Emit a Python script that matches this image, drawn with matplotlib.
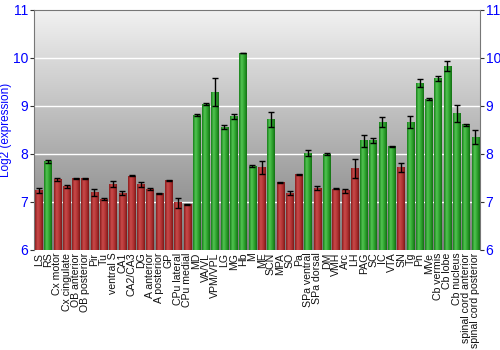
import numpy as np
import matplotlib
matplotlib.use("Agg")
import matplotlib.pyplot as plt
from matplotlib.colors import LinearSegmentedColormap

plt.rcParams["font.family"] = ["Liberation Sans", "DejaVu Sans"]

categories = ["LS", "RS", "Cx motor", "Cx cingulate", "OB anterior", "OB posterior", "Pir", "Tu",
              "ventral S", "CA1", "CA2/CA3", "DG", "A anterior", "A posterior", "GP", "CPu lateral",
              "CPu medial", "MD", "VA/VL", "VPM/VPL", "LG", "MG", "Hb", "M", "ME", "SCN", "MPA",
              "SO", "Pa", "SPa ventral", "SPa dorsal", "DM", "VMH", "Arc", "LH", "PAG", "SC", "IC",
              "VTA", "SN", "Tg", "Pn", "MVe", "Cb vermis", "Cb lobe", "Cb nucleus",
              "spinal cord anterior", "spinal cord posterior"]
values = [7.24, 7.84, 7.47, 7.32, 7.49, 7.48, 7.20, 7.06,
          7.37, 7.18, 7.54, 7.37, 7.26, 7.17, 7.44, 6.98,
          6.95, 8.80, 9.03, 9.29, 8.56, 8.78, 10.10, 7.74, 7.72, 8.71, 7.40,
          7.18, 7.58, 8.01, 7.29, 7.99, 7.27, 7.23, 7.70, 8.27, 8.27, 8.66,
          8.15, 7.72, 8.66, 9.47, 9.14, 9.57, 9.83, 8.84,
          8.61, 8.35]
errors = [0.05, 0.04, 0.03, 0.04, 0.01, 0.01, 0.07, 0.03,
          0.06, 0.04, 0.01, 0.05, 0.02, 0.01, 0.01, 0.10,
          0.01, 0.02, 0.02, 0.29, 0.05, 0.06, 0.01, 0.02, 0.14, 0.16, 0.01,
          0.04, 0.01, 0.06, 0.05, 0.02, 0.01, 0.04, 0.20, 0.12, 0.05, 0.10,
          0.01, 0.10, 0.12, 0.08, 0.02, 0.06, 0.10, 0.17,
          0.02, 0.15]
groups = ["lo", "hi", "lo", "lo", "lo", "lo", "lo", "lo",
          "lo", "lo", "lo", "lo", "lo", "lo", "lo", "lo",
          "lo", "hi", "hi", "hi", "hi", "hi", "hi", "hi", "lo", "hi", "lo",
          "lo", "lo", "hi", "lo", "hi", "lo", "lo", "lo", "hi", "hi", "hi",
          "hi", "lo", "hi", "hi", "hi", "hi", "hi", "hi",
          "hi", "hi"]
yticks = [6, 7, 8, 9, 10, 11]
ylabel = "Log2 (expression)"

fig = plt.figure(figsize=(5, 3.5), dpi=100)
ax = fig.add_axes([0.068, 0.286, 0.892, 0.686])
ymin, ymax = 6, 11
n = len(categories)
x = np.arange(n)
ax.set_xlim(-0.5, n - 0.5)
ax.set_ylim(ymin, ymax)

# background gradient
bg = LinearSegmentedColormap.from_list("bg", ["#7c7c7c", "#f2f2f2"])
grad = np.linspace(0, 1, 256).reshape(-1, 1)
ax.imshow(grad, extent=(-0.5, n - 0.5, ymin, ymax), origin="lower", aspect="auto",
          cmap=bg, zorder=0)
for t in yticks[1:-1]:
    ax.axhline(t, color="white", lw=1.0, zorder=1)

cmaps = {
    "lo": LinearSegmentedColormap.from_list("r", ["#8a1c1c", "#c94a4a", "#b23434", "#7e1818"]),
    "hi": LinearSegmentedColormap.from_list("g", ["#17801a", "#52c452", "#2ea22e", "#137013"]),
}
hgrad = np.linspace(0, 1, 64).reshape(1, -1)
w = 0.8
for xi, v, g in zip(x, values, groups):
    ax.imshow(hgrad, extent=(xi - w / 2, xi + w / 2, ymin, v), origin="lower",
              aspect="auto", cmap=cmaps[g], zorder=2)
ax.errorbar(x, values, yerr=errors, fmt="none", ecolor="black", elinewidth=1,
            capsize=2, capthick=1, zorder=3)
ax.set_xlim(-0.5, n - 0.5)
ax.set_ylim(ymin, ymax)

ax.set_xticks(x)
ax.set_xticklabels(categories, rotation=90, fontsize=7.6, color="#111111")
ax.tick_params(axis="x", length=0, pad=2)
ax.set_yticks(yticks)
ax.tick_params(axis="y", colors="#333333", labelcolor="blue", labelsize=10, length=3,
               pad=1, right=True, labelright=True)
ax.set_ylabel(ylabel, color="blue", fontsize=8.5, labelpad=1)
for s in ["left", "right", "top"]:
    ax.spines[s].set_color("#777777")
ax.spines["bottom"].set_visible(False)

fig.savefig("out.png", dpi=100)
